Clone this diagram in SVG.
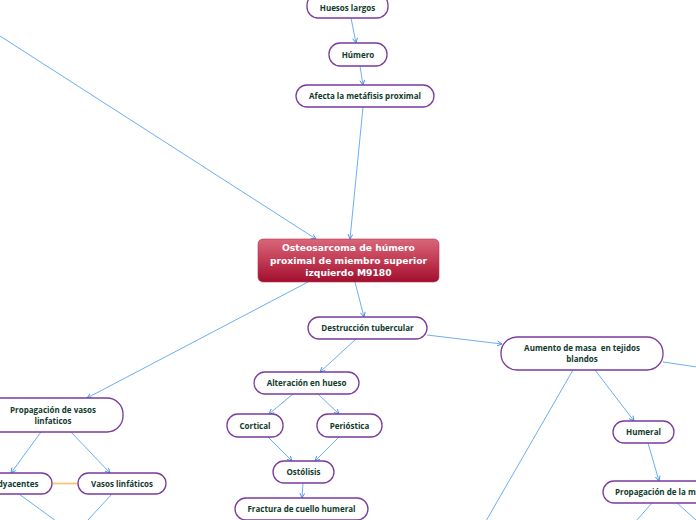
<svg xmlns="http://www.w3.org/2000/svg" width="696" height="520" viewBox="0 0 696 520">
<defs>
<style>
.n{fill:#fff;stroke:#7a3b9c;stroke-width:1.3}
.t{font-family:"Open Sans","Noto Sans",sans-serif;font-weight:bold;font-size:8px;fill:#0f3a2b;text-anchor:middle}
.ct{font-family:"DejaVu Sans",sans-serif;font-weight:bold;font-size:9.2px;fill:#fff;text-anchor:middle}
.c{fill:none;stroke:#5aa5f2;stroke-width:0.9}
.ca{fill:none;stroke:#5aa5f2;stroke-width:0.9;marker-end:url(#ar)}
</style>
<marker id="ar" viewBox="0 0 10 10" refX="9" refY="5" markerWidth="6" markerHeight="6" markerUnits="userSpaceOnUse" orient="auto">
<path d="M1,1 L9,5 L1,9" fill="none" stroke="#3d8fe8" stroke-width="1.5"/>
</marker>
<linearGradient id="rg" x1="0" y1="0" x2="0" y2="1">
<stop offset="0" stop-color="#d8677a"/>
<stop offset="0.5" stop-color="#c23a53"/>
<stop offset="1" stop-color="#a10f2f"/>
</linearGradient>
</defs>
<rect width="696" height="520" fill="#fff"/>
<g id="connectors">
<line class="ca" x1="351" y1="18" x2="356" y2="43"/>
<line class="ca" x1="360" y1="66" x2="363" y2="85"/>
<line class="ca" x1="363" y1="107" x2="350" y2="239"/>
<line class="ca" x1="0" y1="36" x2="316" y2="239"/>
<line class="ca" x1="355" y1="282" x2="364" y2="317"/>
<line class="ca" x1="308" y1="282" x2="87" y2="398"/>
<line class="ca" x1="427" y1="335" x2="502" y2="344"/>
<line class="ca" x1="356" y1="339" x2="320" y2="372"/>
<line class="ca" x1="293" y1="394" x2="269" y2="414"/>
<line class="ca" x1="318" y1="394" x2="339" y2="414"/>
<line class="ca" x1="268" y1="437" x2="292" y2="461"/>
<line class="ca" x1="339" y1="437" x2="315" y2="461"/>
<line class="ca" x1="303" y1="483" x2="302" y2="498"/>
<line class="ca" x1="595" y1="370" x2="634" y2="421"/>
<line class="c" x1="573" y1="370" x2="486" y2="521"/>
<line class="c" x1="663" y1="362" x2="697" y2="367"/>
<line class="ca" x1="648" y1="443" x2="659" y2="481"/>
<line class="c" x1="652" y1="503" x2="636" y2="521"/>
<line class="c" x1="677" y1="503" x2="696" y2="520"/>
<line class="ca" x1="41" y1="432" x2="11" y2="473"/>
<line class="ca" x1="71" y1="432" x2="110" y2="473"/>
<line x1="52" y1="483.5" x2="78" y2="483.5" stroke="#f7c47c" stroke-width="1.8"/>
<line class="c" x1="19" y1="494" x2="56" y2="521"/>
<line class="c" x1="112" y1="494" x2="87" y2="521"/>
</g>
<g id="n-huesos"><rect class="n" x="307" y="-6" width="81" height="24" rx="11"/><text class="t" x="347.5" y="11">Huesos largos</text></g>
<g id="n-humero"><rect class="n" x="329" y="43" width="58" height="23" rx="11"/><text class="t" x="358" y="57.5">Húmero</text></g>
<g id="n-afecta"><rect class="n" x="296" y="85" width="138" height="22" rx="11"/><text class="t" x="365" y="99">Afecta la metáfisis proximal</text></g>
<g id="n-central"><rect x="258" y="239" width="181" height="43" rx="5" fill="url(#rg)" stroke="#b8324a" stroke-width="0.6"/>
<text class="ct" x="348.5" y="251">Osteosarcoma de húmero</text>
<text class="ct" x="348.5" y="263.5">proximal de miembro superior</text>
<text class="ct" x="348.5" y="276">izquierdo M9180</text></g>
<g id="n-destruccion"><rect class="n" x="308" y="317" width="119" height="22" rx="11"/><text class="t" x="367.5" y="331">Destrucción tubercular</text></g>
<g id="n-aumento"><rect class="n" x="501" y="337" width="162" height="33" rx="16"/><text class="t" x="582" y="350.5" style="white-space:pre" xml:space="preserve">Aumento de masa  en tejidos</text><text class="t" x="582" y="362">blandos</text></g>
<g id="n-humeral"><rect class="n" x="613" y="421" width="61" height="22" rx="11"/><text class="t" x="643.5" y="435">Humeral</text></g>
<g id="n-propmasa"><rect class="n" x="603" y="481" width="130" height="22" rx="11"/><text class="t" x="615" y="495" style="text-anchor:start">Propagación de la m</text></g>
<g id="n-alteracion"><rect class="n" x="254" y="372" width="105" height="22" rx="11"/><text class="t" x="306.5" y="386">Alteración en hueso</text></g>
<g id="n-cortical"><rect class="n" x="227" y="414" width="56" height="23" rx="11"/><text class="t" x="255" y="428.5">Cortical</text></g>
<g id="n-periostica"><rect class="n" x="317" y="414" width="65" height="23" rx="11"/><text class="t" x="349.5" y="428.5">Perióstica</text></g>
<g id="n-ostolisis"><rect class="n" x="273" y="461" width="61" height="22" rx="11"/><text class="t" x="303.5" y="475">Ostólisis</text></g>
<g id="n-fractura"><rect class="n" x="235" y="498" width="133" height="22" rx="11"/><text class="t" x="301.5" y="512">Fractura de cuello humeral</text></g>
<g id="n-propvasos"><rect class="n" x="-17" y="398" width="140" height="34" rx="16"/><text class="t" x="53" y="413">Propagación de vasos</text><text class="t" x="53" y="423.5">linfaticos</text></g>
<g id="n-adyacentes"><rect class="n" x="-60" y="473" width="112" height="21" rx="10.5"/><text class="t" x="38.5" y="486.5" style="text-anchor:end">dyacentes</text></g>
<g id="n-vasos"><rect class="n" x="78" y="473" width="88" height="21" rx="10.5"/><text class="t" x="122" y="486.5">Vasos linfáticos</text></g>
</svg>
